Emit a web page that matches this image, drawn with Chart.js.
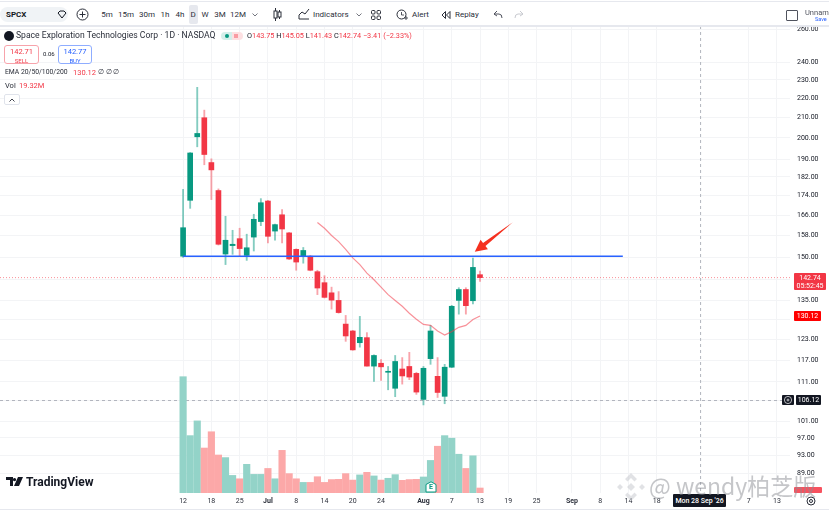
<!DOCTYPE html>
<html>
<head>
<meta charset="utf-8">
<script src="https://cdn.jsdelivr.net/npm/chart.js@4/dist/chart.umd.min.js"></script>
<style>
html, body { margin: 0; padding: 0; background: #fff; overflow: hidden; }
#wrap { position: relative; width: 829px; height: 511px; font-family: Roboto, sans-serif; color: #131722; filter: blur(0.3px); }
#wrap canvas { position: absolute; left: 0; top: 0; }
.t { position: absolute; white-space: nowrap; line-height: 1; }
.r { color: #f23645; }
#bar { position: absolute; left: 0; top: 0; width: 829px; height: 25px; background: #fff; border-bottom: 2px solid #e6e8ee; box-sizing: content-box; }
#bar svg, #wrap > svg { position: absolute; }
.iv { font-size: 8px; color: #2a2e39; top: 11px; transform: translateX(-50%); }
.box { position: absolute; box-sizing: border-box; border-radius: 3px; background: #fff; text-align: center; font-size: 7.5px; line-height: 9px; padding-top: 1px; }
.pill { position: absolute; color: #fff; font-size: 7px; text-align: center; border-radius: 1px; }
</style>
</head>
<body>
<div id="wrap">
  <canvas id="chart" width="829" height="511"></canvas>

  <div id="bar">
    <div style="position:absolute;left:0;top:1px;width:829px;height:1px;background:#e6e8ee"></div>
    <div style="position:absolute;left:0;top:7px;width:68px;height:15px;background:#f0f3f6;border-radius:8px"></div>
    <div class="t" style="left:6px;top:11px;font-size:8px;font-weight:700">SPCX</div>
    <svg style="left:57px;top:10px" width="10" height="9"><path d="M1 3 L3 1 H7 L9 3 L5 8 Z" fill="none" stroke="#131722"/></svg>
    <svg style="left:76px;top:8px" width="13" height="13"><circle cx="6.5" cy="6.5" r="5.5" fill="none" stroke="#2a2e39"/><path d="M3.5 6.5H9.5M6.5 3.5V9.5" stroke="#2a2e39"/></svg>
    <div style="position:absolute;left:189px;top:5px;width:9px;height:19px;background:#e6e8ee;border-radius:2px"></div>
    <div class="t iv" style="left:107px">5m</div>
    <div class="t iv" style="left:126px">15m</div>
    <div class="t iv" style="left:147px">30m</div>
    <div class="t iv" style="left:165px">1h</div>
    <div class="t iv" style="left:180px">4h</div>
    <div class="t iv" style="left:193px">D</div>
    <div class="t iv" style="left:205px">W</div>
    <div class="t iv" style="left:220px">3M</div>
    <div class="t iv" style="left:238px">12M</div>
    <svg style="left:252px;top:13px" width="6" height="4"><path d="M0.5 0.5L3 3L5.5 0.5" fill="none" stroke="#50535e" stroke-width=".8"/></svg>
    <svg style="left:273px;top:8px" width="9" height="13"><path d="M2.5 0V13M6.5 2V11" stroke="#2a2e39"/><rect x="1" y="3" width="3" height="7" fill="#fff" stroke="#2a2e39"/><rect x="5" y="4" width="3" height="5" fill="#fff" stroke="#2a2e39"/></svg>
    <svg style="left:298px;top:8px" width="12" height="12"><path d="M1 11V7L4 4L7 6L11 1M1 11H11" fill="none" stroke="#2a2e39"/></svg>
    <div class="t" style="left:313px;top:11px;font-size:8px;color:#2a2e39">Indicators</div>
    <svg style="left:356px;top:13px" width="6" height="4"><path d="M0.5 0.5L3 3L5.5 0.5" fill="none" stroke="#50535e" stroke-width=".8"/></svg>
    <svg style="left:371px;top:10px" width="10" height="10"><rect x=".5" y=".5" width="3.5" height="3.5" rx="1" fill="none" stroke="#2a2e39"/><rect x="6" y=".5" width="3.5" height="3.5" rx="1" fill="none" stroke="#2a2e39"/><rect x=".5" y="6" width="3.5" height="3.5" rx="1" fill="none" stroke="#2a2e39"/><rect x="6" y="6" width="3.5" height="3.5" rx="1" fill="none" stroke="#2a2e39"/></svg>
    <svg style="left:396px;top:8px" width="12" height="13"><circle cx="5.5" cy="6.5" r="4.5" fill="none" stroke="#2a2e39"/><path d="M5.5 4V7H8M8 10H12M10 8V12" fill="none" stroke="#2a2e39" stroke-width=".8"/></svg>
    <div class="t" style="left:412px;top:11px;font-size:8px;color:#2a2e39">Alert</div>
    <svg style="left:441px;top:11px" width="10" height="8"><path d="M4.5 .5L1 4L4.5 7.500ZM9 .5L5.5 4L9 7.500Z" fill="none" stroke="#2a2e39"/></svg>
    <div class="t" style="left:455px;top:11px;font-size:8px;color:#2a2e39">Replay</div>
    <svg style="left:493px;top:10px" width="10" height="9"><path d="M4 1L1 4L4 6M1 4H6Q9 4 9 8" fill="none" stroke="#50535e"/></svg>
    <svg style="left:514px;top:10px" width="10" height="9"><path d="M6 1L9 4L6 6M9 4H4Q1 4 1 8" fill="none" stroke="#c8cad0"/></svg>
    <div style="position:absolute;left:786px;top:10px;width:10px;height:9px;border:1px solid #50535e;border-radius:1px"></div>
    <div class="t" style="left:805px;top:9px;font-size:7.5px;color:#50535e">Unnam</div>
    <div class="t" style="left:815px;top:17px;font-size:5.5px;color:#2962ff">Save</div>
  </div>

  <svg style="left:4px;top:31px" width="10" height="10"><circle cx="5" cy="5" r="5" fill="#131722"/></svg>
  <div class="t" style="left:16px;top:31px;font-size:8.6px;color:#2a2e39">Space Exploration Technologies Corp · 1D · NASDAQ</div>
  <div style="position:absolute;left:221px;top:32px;width:22px;height:8px;border-radius:4px;background:linear-gradient(90deg,#d5efea 50%,#fde0e2 50%)"></div>
  <svg style="left:224px;top:33px" width="16" height="6"><circle cx="3" cy="3" r="2" fill="#089981"/><path d="M10 2H14M10 4H14" stroke="#f23645" stroke-width=".8"/></svg>
  <div class="t" style="left:247px;top:32px;font-size:7.3px">O<span class="r">143.75</span> H<span class="r">145.05</span> L<span class="r">141.43</span> C<span class="r">142.74</span> <span class="r">−3.41 (−2.33%)</span></div>

  <div class="box r" style="left:4px;top:45px;width:35px;height:19px;border:1px solid #f7a3ab">142.71<br><span style="font-size:6px">SELL</span></div>
  <div class="t" style="left:43px;top:51px;font-size:6px">0.06</div>
  <div class="box" style="left:58px;top:45px;width:34px;height:19px;border:1px solid #8fadff;color:#2962ff">142.77<br><span style="font-size:6px">BUY</span></div>
  <div class="t" style="left:5px;top:69px;font-size:6.8px;color:#2a2e39">EMA 20/50/100/200</div>
  <div class="t r" style="left:73px;top:69px;font-size:7.5px">130.12</div>
  <div class="t" style="left:98px;top:69px;font-size:7px;color:#2a2e39">∅ ∅ ∅</div>
  <div class="t" style="left:5px;top:82px;font-size:7.5px;color:#2a2e39">Vol</div>
  <div class="t r" style="left:19px;top:82px;font-size:7.5px">19.32M</div>
  <div style="position:absolute;left:4px;top:94px;width:16px;height:11px;border:1px solid #e0e3eb;border-radius:2px;box-sizing:border-box;background:#fff"></div>
  <svg style="left:9px;top:98px" width="6" height="4"><path d="M.5 3.5L3 1L5.5 3.500" fill="none" stroke="#2a2e39" stroke-width=".9"/></svg>

  <svg style="left:6px;top:477px" width="18" height="10"><path d="M0 0H7V9H4V3H0ZM8 9L12 0H17L13 9Z M8.5 1a1.6 1.6 0 1 0 .01 0Z" fill="#131722"/></svg>
  <div class="t" style="left:26px;top:476px;font-size:12px;font-weight:700">TradingView</div>

  <!-- earnings flag on the volume pane -->
  <svg style="left:425px;top:481px" width="12" height="12"><path d="M6 .8L11 3.500V11H1V3.500Z" fill="#fff" stroke="#089981"/></svg>
  <div class="t" style="left:429px;top:484px;font-size:7px;font-weight:700;color:#089981">E</div>

  <!-- price labels on the right axis -->
  <div class="pill" style="left:794px;top:273px;width:32px;height:17px;background:#f23645;line-height:8px;padding-top:1px;box-sizing:border-box">142.74<br>05:52:45</div>
  <div class="pill" style="left:794px;top:311px;width:27px;height:10px;background:#ff0000;line-height:10px">130.12</div>
  <div class="pill" style="left:796px;top:395px;width:25px;height:10px;background:#131722;line-height:10px">106.12</div>
  <div style="position:absolute;left:782px;top:395px;width:12px;height:10px;background:#131722;border-radius:1px"></div>
  <svg style="left:783px;top:395px" width="10" height="10"><circle cx="5" cy="5" r="3.6" fill="none" stroke="#fff" stroke-width=".7"/><path d="M3.5 5H6.5M5 3.5V6.500" stroke="#fff" stroke-width=".7"/></svg>
  <div class="pill" style="left:794px;top:487px;width:28px;height:6px;background:#f7525f"></div>
  <div class="pill" style="left:673px;top:494px;width:53px;height:13px;background:#131722;line-height:14px;font-size:7px;font-weight:500">Mon 28 Sep '26</div>
  <svg style="left:806px;top:496px" width="10" height="10"><circle cx="5" cy="5" r="4" fill="none" stroke="#2a2e39"/><circle cx="5" cy="5" r="1.5" fill="none" stroke="#2a2e39"/></svg>
  <div style="position:absolute;left:0;top:509px;width:829px;height:1px;background:#e6e8ee"></div>

  <!-- watermark -->
  <svg style="left:615px;top:472px;opacity:.55" width="32" height="30" viewBox="0 0 32 30"><path d="M16 1L22 7L19.5 9.500L16 6L12.500 9.500L10 7ZM5 12L8 15L5 18L2 15ZM27 12L30 15L27 18L24 15ZM16 11L20 15L16 19L12 15ZM10 23L12.500 20.500L16 24L19.500 20.500L22 23L16 29Z" fill="#c9cbd0"/></svg>
  <div class="t" style="left:649px;top:474px;font-size:23px;color:rgba(140,142,148,.5);font-family:'Noto Sans CJK SC','Noto Sans',sans-serif">@ wendy柏芝版</div>
</div>

<script>
// daily bars, 12 Jun - 13 Aug
const opens = [150.3,172.0,200.5,209.9,188.4,176.1,151.1,154.2,156.8,150.6,157.4,163.4,171.7,159.7,166.1,159.0,152.8,150.3,150.3,144.8,141.0,137.6,135.1,127.6,125.5,122.0,123.5,115.3,116.1,113.6,109.3,114.5,115.2,113.3,106.4,117.4,112.5,107.2,115.0,135.1,138.7,135.0,143.75];
const closes = [161.0,192.8,202.1,192.1,185.1,154.7,156.2,154.7,153.1,153.4,164.3,171.0,157.7,162.2,160.5,149.3,148.2,152.4,145.3,139.2,136.1,135.2,131.2,124.0,119.9,123.6,115.3,118.3,115.1,113.8,116.6,112.6,112.3,108.3,114.7,125.5,108.2,115.0,133.2,138.7,133.4,146.3,142.74];
const highs = [176.6,193.0,225.9,213.8,190.1,176.8,165.5,160.0,160.8,158.5,166.3,172.7,172.0,162.4,168.2,159.2,153.0,153.5,150.6,145.3,143.4,139.5,138.0,130.3,125.7,130.0,125.0,118.5,117.1,115.2,118.3,117.7,119.2,113.6,115.2,127.2,117.7,115.8,133.5,139.3,139.3,149.6,145.05];
const lows = [149.9,168.7,195.7,187.4,172.3,154.4,147.3,151.0,150.3,148.8,152.2,161.8,155.2,156.2,155.2,149.1,145.3,147.8,145.1,137.0,135.9,132.3,131.0,122.4,119.8,120.7,115.3,111.1,111.4,108.9,107.1,110.4,111.6,107.7,105.0,115.8,106.9,105.3,114.9,130.7,130.7,134.0,141.43];
const volumes = [450,222,279,174,237,147,137,68,55,111,72,72,95,55,165,75,55,41,41,63,41,52,53,75,50,70,80,66,50,57,71,49,52,53,62,126,181,222,212,150,95,144,19.32];
const emaStart = 19;
const ema = [163,160.8,158,155.7,152.8,149.7,147.3,144.3,142,139.5,137,135.1,133.2,131,129.1,127.5,127.2,125.5,124.3,125.3,126.6,127.2,129,130.12];

const priceTicks = [260,240,230,220,210,200,190,182,174,166,158,150,142,135,129,123,117,111,106,101,97,93,89];
const dateTickPos = [0,4,8,12,16,20,24,28,34,38,42,46,50,55,59,63,67,80,84];
const dateTickText = ["12","18","25","Jul","8","14","20","24","Aug","7","13","19","25","Sep","8","14","18","7","13"];
const boldDates = ["Jul","Aug","Sep"];

const levelPrice = 150.3;
const levelEnd = 62.2;
const lastPrice = 142.74;
const crossPrice = 106.12;
const crossPos = 73.2;
const arrowTail = [46.64, 163.1];
const arrowTip = [41.26, 151.9];

const xMin = -25.9, xMax = 85.85, yMin = 84.9, yMax = 261.9;
const green = "#089981", red = "#f23645";

const idx = opens.map((_, i) => i);
const isUp = idx.map(i => closes[i] >= opens[i]);
const bodyColor = isUp.map(u => u ? green : red);
const wickColor = isUp.map(u => u ? "rgba(8,153,129,0.5)" : "rgba(242,54,69,0.45)");
const volColor = isUp.map(u => u ? "#93d3c8" : "#fca8a8");

const arrowPlugin = {
    id: "arrow",
    afterDatasetsDraw(chart) {
        const { x, y } = chart.scales;
        const x0 = x.getPixelForValue(arrowTail[0]), y0 = y.getPixelForValue(arrowTail[1]);
        const x1 = x.getPixelForValue(arrowTip[0]), y1 = y.getPixelForValue(arrowTip[1]);
        const len = Math.hypot(x1 - x0, y1 - y0);
        const ux = (x1 - x0) / len, uy = (y1 - y0) / len;
        const nx = -uy, ny = ux;
        const along = 12, neck = 2, wing = 6;
        const bx = x1 - ux * along, by = y1 - uy * along;
        const c = chart.ctx;
        c.save();
        c.fillStyle = "#f5301f";
        c.beginPath();
        c.moveTo(x0, y0);
        c.lineTo(bx + nx * neck, by + ny * neck);
        c.lineTo(bx + nx * wing, by + ny * wing);
        c.lineTo(x1, y1);
        c.lineTo(bx - nx * wing, by - ny * wing);
        c.lineTo(bx - nx * neck, by - ny * neck);
        c.closePath();
        c.fill();
        c.restore();
    }
};

const config = {
    type: "bar",
    data: {
        datasets: [
            {
                label: "Level",
                type: "line",
                data: [{ x: 0, y: levelPrice }, { x: levelEnd, y: levelPrice }],
                borderColor: "#2962ff",
                borderWidth: 1.5,
                pointRadius: 0,
                order: 1
            },
            {
                label: "EMA 20",
                type: "line",
                data: ema.map((v, i) => ({ x: emaStart + i, y: v })),
                borderColor: "rgba(242,54,69,0.55)",
                borderWidth: 1.2,
                pointRadius: 0,
                order: 2
            },
            {
                label: "Last",
                type: "line",
                data: [{ x: xMin, y: lastPrice }, { x: xMax, y: lastPrice }],
                borderColor: "rgba(242,54,69,0.55)",
                borderWidth: 1,
                borderDash: [1, 2],
                pointRadius: 0,
                order: 6
            },
            {
                label: "Cross H",
                type: "line",
                data: [{ x: xMin, y: crossPrice }, { x: xMax, y: crossPrice }],
                borderColor: "#b2b5be",
                borderWidth: 1,
                borderDash: [3, 3],
                pointRadius: 0,
                order: 7
            },
            {
                label: "Cross V",
                type: "line",
                data: [{ x: crossPos, y: yMax }, { x: crossPos, y: yMin }],
                borderColor: "#b2b5be",
                borderWidth: 1,
                borderDash: [3, 3],
                pointRadius: 0,
                order: 7
            },
            {
                label: "Body",
                data: idx.map(i => ({ x: i, y: [opens[i], closes[i]] })),
                backgroundColor: bodyColor,
                barThickness: 5,
                minBarLength: 1,
                grouped: false,
                order: 3
            },
            {
                label: "Wick",
                data: idx.map(i => ({ x: i, y: [lows[i], highs[i]] })),
                backgroundColor: wickColor,
                barThickness: 1.2,
                grouped: false,
                order: 4
            },
            {
                label: "Vol",
                yAxisID: "vol",
                data: idx.map(i => ({ x: i, y: volumes[i] })),
                backgroundColor: volColor,
                barThickness: 6.5,
                grouped: false,
                order: 5
            }
        ]
    },
    options: {
        responsive: false,
        animation: false,
        events: [],
        layout: { padding: { top: 26, right: 0, bottom: 0, left: 0 } },
        plugins: { legend: { display: false }, tooltip: { enabled: false } },
        scales: {
            x: {
                type: "linear",
                min: xMin,
                max: xMax,
                offset: false,
                border: { display: false },
                grid: { offset: false, color: "#f3f4f6", drawTicks: false },
                afterBuildTicks(scale) {
                    scale.ticks = dateTickPos.map(v => ({ value: v }));
                },
                afterFit(scale) {
                    scale.height = 18;
                },
                ticks: {
                    autoSkip: false,
                    maxRotation: 0,
                    padding: 4,
                    color: "#2a2e39",
                    font: ctx => ({
                        family: "Roboto",
                        size: 7,
                        weight: ctx.tick && boldDates.includes(dateTickText[dateTickPos.indexOf(ctx.tick.value)]) ? "bold" : "normal"
                    }),
                    callback: value => dateTickText[dateTickPos.indexOf(value)]
                }
            },
            y: {
                type: "logarithmic",
                position: "right",
                min: yMin,
                max: yMax,
                border: { display: false },
                grid: { color: "#f3f4f6", drawTicks: false },
                afterBuildTicks(scale) {
                    scale.ticks = priceTicks.map(v => ({ value: v }));
                },
                afterFit(scale) {
                    scale.width = 39;
                },
                ticks: {
                    autoSkip: false,
                    padding: 7,
                    color: "#131722",
                    font: { family: "Roboto", size: 7 },
                    callback: value => value.toFixed(2)
                }
            },
            vol: {
                type: "linear",
                display: false,
                min: 0,
                max: 1807
            }
        }
    },
    plugins: [arrowPlugin]
};

new Chart(document.getElementById("chart"), config);
</script>
</body>
</html>
